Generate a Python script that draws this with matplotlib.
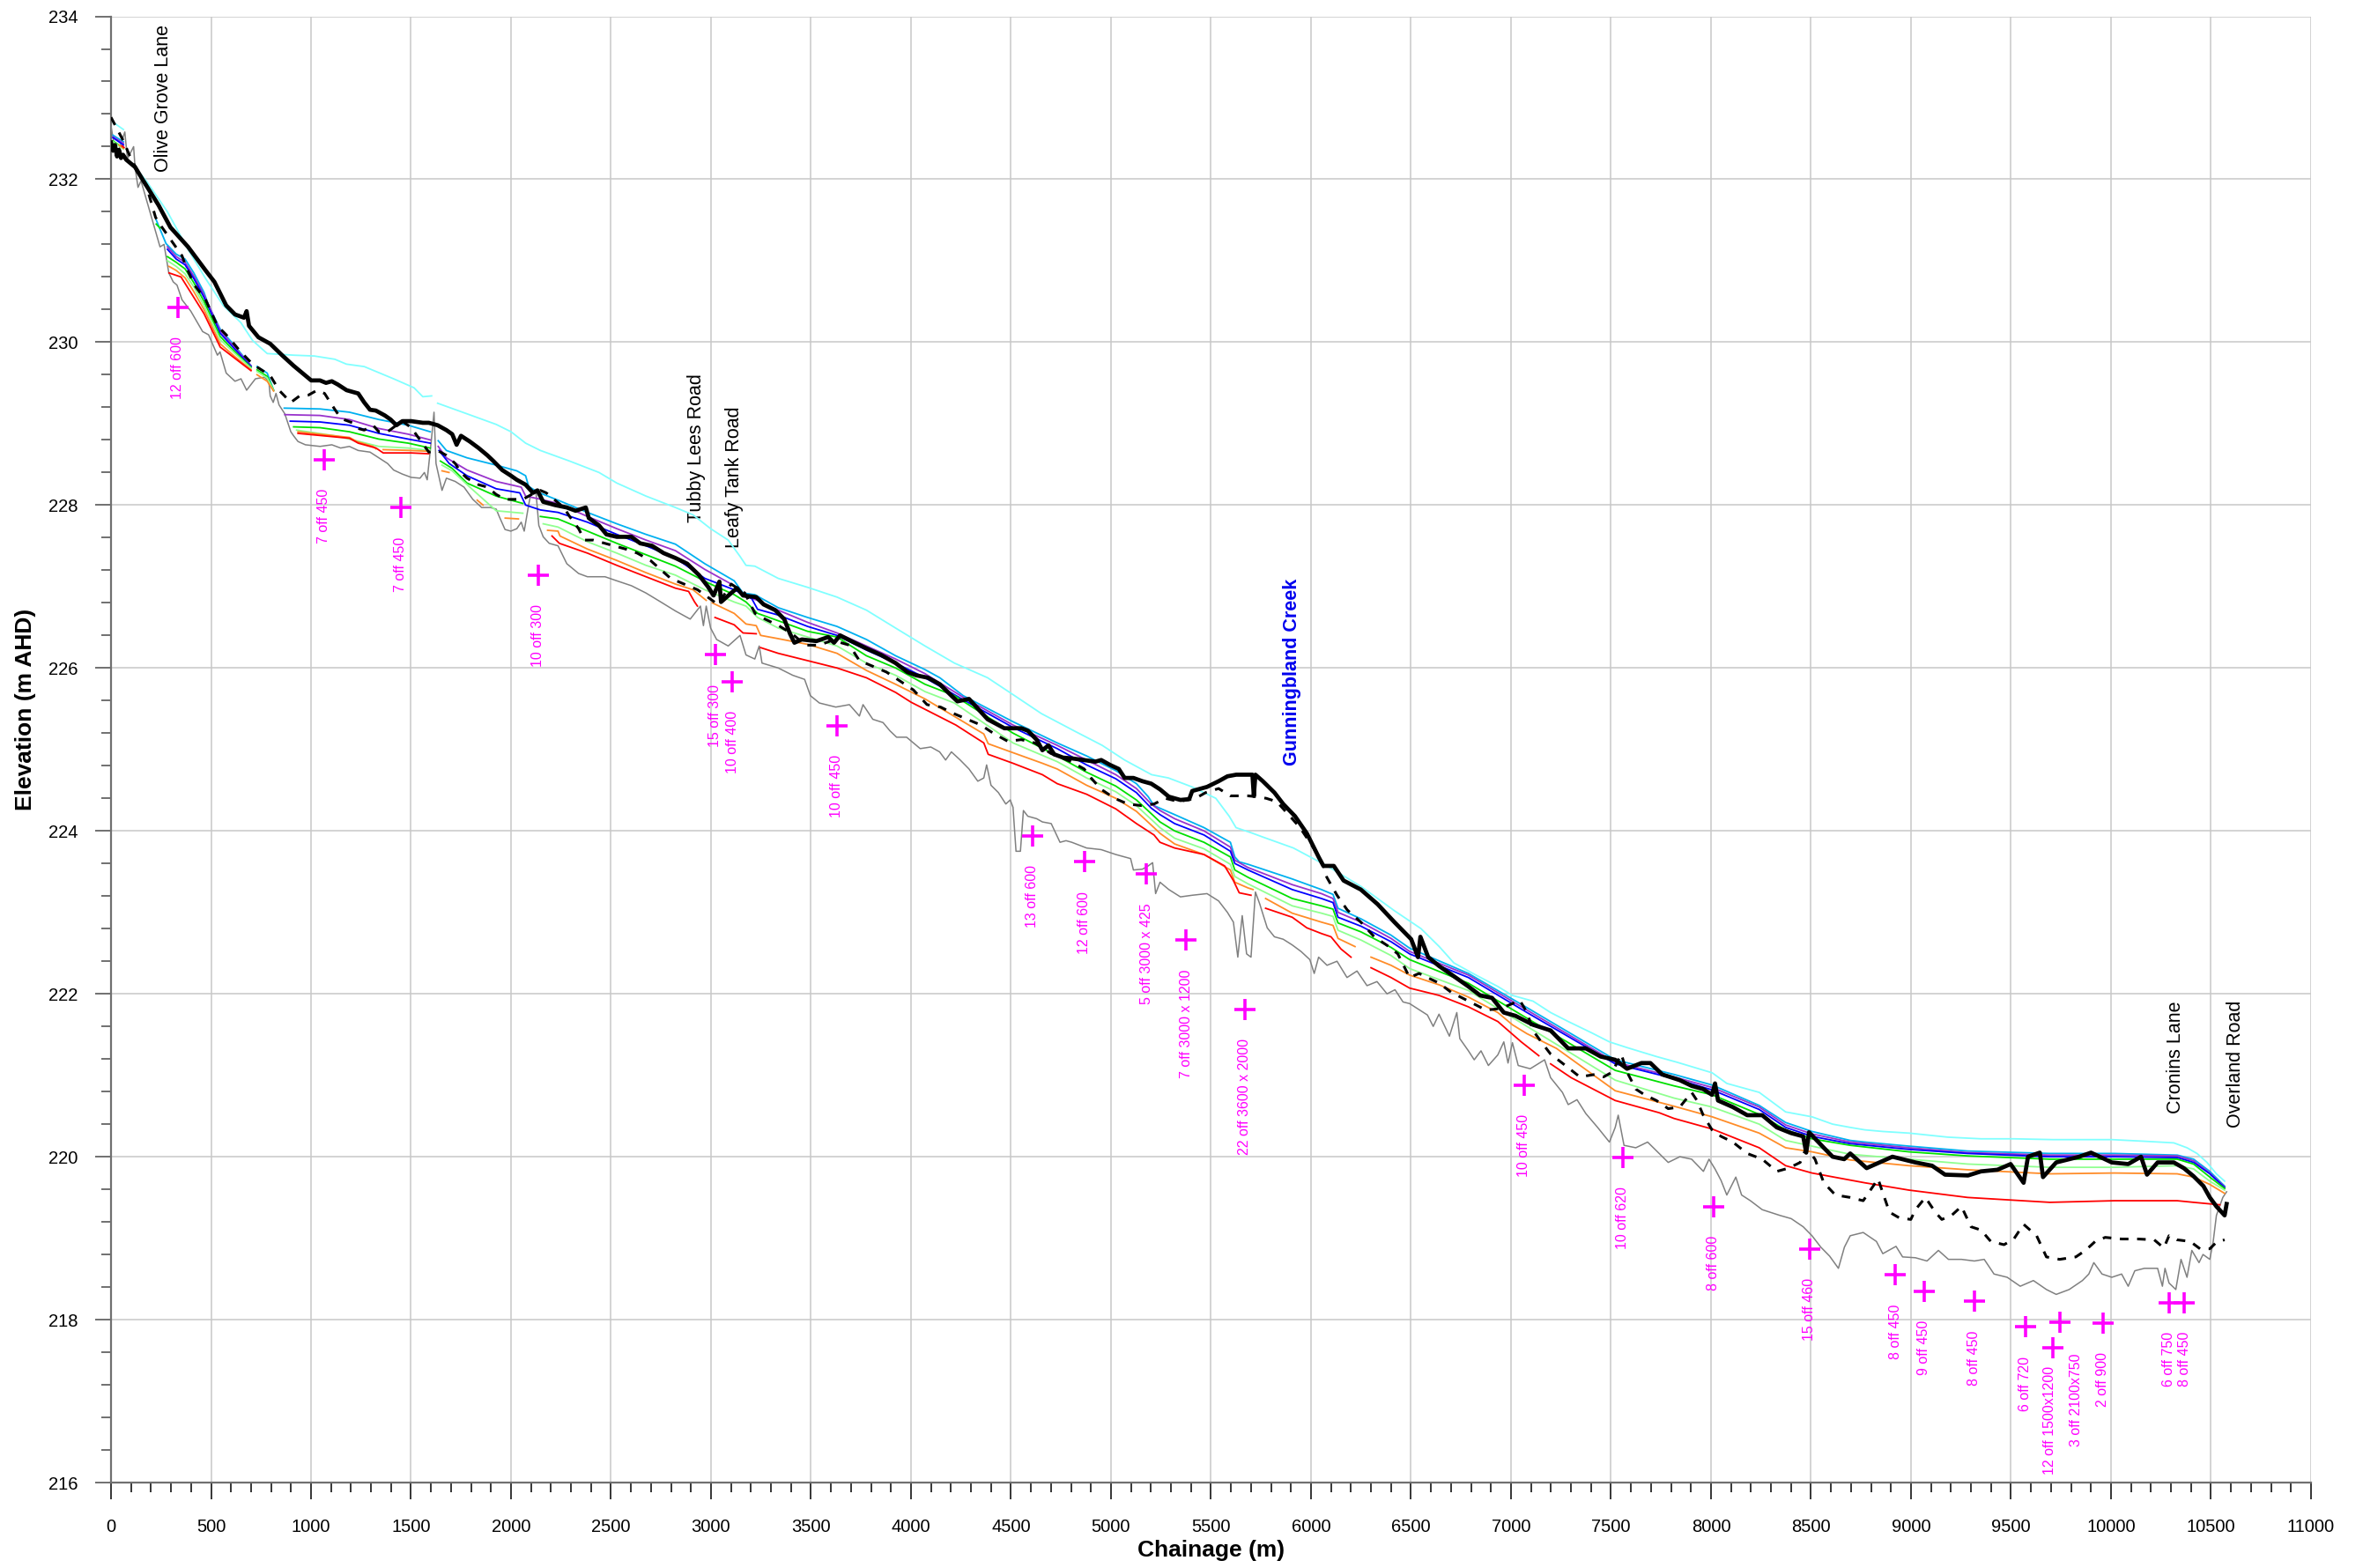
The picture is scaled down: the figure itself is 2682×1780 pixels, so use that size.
import numpy as np
import matplotlib.pyplot as plt
from matplotlib.ticker import MultipleLocator

plt.rcParams['font.family'] = ['Liberation Sans', 'DejaVu Sans']

GAP = (np.nan, np.nan)

# thick black line (road level)
road_level = [
    (0, 232.45), (10, 232.35), (20, 232.42), (30, 232.28), (40, 232.36), (50, 232.26), (60, 232.30), (76, 232.24),
    (120, 232.15), (157, 232.00), (238, 231.68), (297, 231.41), (385, 231.17), (473, 230.88), (517, 230.74),
    (576, 230.45), (620, 230.34), (665, 230.30), (678, 230.38), (690, 230.20), (737, 230.06), (796, 229.98),
    (855, 229.84), (913, 229.71), (972, 229.59), (1001, 229.53), (1045, 229.53), (1075, 229.50), (1104, 229.52),
    (1134, 229.48), (1178, 229.41), (1236, 229.37), (1266, 229.26), (1295, 229.17), (1324, 229.16), (1369, 229.10),
    (1398, 229.05), (1427, 228.98), (1457, 229.03), (1501, 229.03), (1559, 229.01), (1589, 229.01), (1633, 228.98),
    (1677, 228.92), (1706, 228.87), (1728, 228.74), (1750, 228.85), (1794, 228.78), (1838, 228.70), (1882, 228.61),
    (1912, 228.54), (1956, 228.43), (2000, 228.36), (2029, 228.31), (2073, 228.25), (2110, 228.15), (2132, 228.18),
    (2161, 228.04), (2220, 228.00), (2279, 227.97), (2323, 227.93), (2374, 227.97), (2389, 227.84), (2440, 227.75),
    (2477, 227.64), (2529, 227.61), (2602, 227.61), (2646, 227.53), (2705, 227.50), (2763, 227.41), (2822, 227.35),
    (2881, 227.28), (2940, 227.14), (2984, 227.00), (3013, 226.89), (3042, 227.06), (3050, 226.81), (3101, 226.92),
    (3130, 226.98), (3160, 226.89), (3226, 226.87), (3263, 226.78), (3321, 226.71), (3366, 226.60), (3395, 226.42),
    (3417, 226.31), (3454, 226.35), (3527, 226.33), (3586, 226.38), (3615, 226.31), (3645, 226.40), (3718, 226.31),
    (3777, 226.24), (3850, 226.16), (3923, 226.06), (3982, 225.95), (4026, 225.91), (4085, 225.88), (4144, 225.80),
    (4202, 225.66), (4232, 225.59), (4290, 225.62), (4383, 225.37), (4467, 225.26), (4510, 225.26), (4551, 225.26),
    (4584, 225.23), (4628, 225.12), (4657, 224.99), (4687, 225.05), (4716, 224.94), (4760, 224.90), (4804, 224.89),
    (4863, 224.87), (4922, 224.85), (4951, 224.87), (4995, 224.81), (5039, 224.76), (5068, 224.65), (5112, 224.65),
    (5157, 224.61), (5201, 224.58), (5245, 224.51), (5289, 224.42), (5347, 224.38), (5391, 224.39), (5406, 224.49),
    (5480, 224.54), (5538, 224.61), (5582, 224.67), (5626, 224.69), (5707, 224.69), (5714, 224.43), (5722, 224.69),
    (5759, 224.61), (5817, 224.47), (5861, 224.33), (5920, 224.18), (5979, 223.97), (6038, 223.68), (6062, 223.57),
    (6114, 223.57), (6163, 223.39), (6249, 223.28), (6333, 223.10), (6417, 222.88), (6501, 222.67), (6535, 222.45),
    (6547, 222.70), (6586, 222.45), (6641, 222.34), (6700, 222.24), (6787, 222.09), (6846, 221.98), (6905, 221.95),
    (6964, 221.77), (7022, 221.73), (7110, 221.62), (7198, 221.55), (7286, 221.33), (7374, 221.33), (7448, 221.23),
    (7521, 221.19), (7580, 221.08), (7652, 221.15), (7697, 221.15), (7756, 221.01), (7844, 220.94), (7903, 220.87),
    (7961, 220.83), (8005, 220.76), (8020, 220.90), (8035, 220.69), (8109, 220.61), (8181, 220.51), (8256, 220.51),
    (8329, 220.36), (8401, 220.29), (8461, 220.25), (8476, 220.05), (8490, 220.30), (8564, 220.11), (8608, 220.00),
    (8666, 219.97), (8696, 220.04), (8778, 219.86), (8907, 220.00), (9022, 219.93), (9105, 219.89), (9170, 219.78),
    (9285, 219.77), (9350, 219.82), (9432, 219.84), (9498, 219.91), (9563, 219.68), (9585, 220.00), (9644, 220.05),
    (9660, 219.75), (9726, 219.93), (9841, 220.00), (9900, 220.05), (10004, 219.93), (10086, 219.91), (10150, 220.00),
    (10180, 219.78), (10233, 219.93), (10314, 219.93), (10364, 219.86), (10413, 219.76), (10462, 219.64),
    (10494, 219.50), (10527, 219.39), (10568, 219.28), (10578, 219.42),
]

# dashed black line
dashed_level = [
    (0, 232.76), (32, 232.61), (62, 232.47), (100, 232.25), (179, 231.90), (223, 231.53), (252, 231.42), (355, 231.06),
    (370, 230.96), (414, 230.71), (473, 230.52), (532, 230.20), (576, 230.09), (649, 229.88), (708, 229.73),
    (796, 229.59), (840, 229.41), (899, 229.26), (943, 229.34), (987, 229.35), (1031, 229.41), (1068, 229.37),
    (1104, 229.23), (1134, 229.12), (1163, 229.05), (1207, 229.01), (1236, 228.94), (1266, 228.92), (1310, 228.98),
    (1339, 228.90), (1383, 228.90), (1427, 228.98), (1457, 229.03), (1501, 228.95), (1545, 228.80), (1589, 228.65),
    (1633, 228.67), (1677, 228.61), (1721, 228.51), (1750, 228.40), (1780, 228.33), (1838, 228.25), (1882, 228.22),
    (1926, 228.13), (1971, 228.07), (2015, 228.07), (2059, 228.07), (2103, 228.13), (2147, 228.18), (2176, 228.15),
    (2264, 227.97), (2293, 227.86), (2338, 227.71), (2367, 227.57), (2411, 227.57), (2440, 227.55), (2514, 227.50),
    (2573, 227.46), (2631, 227.41), (2697, 227.32), (2798, 227.10), (2866, 227.03), (2933, 226.96), (3034, 226.78),
    (3101, 227.03), (3169, 226.92), (3220, 226.67), (3270, 226.60), (3338, 226.52), (3405, 226.42), (3473, 226.28),
    (3540, 226.28), (3608, 226.34), (3692, 226.28), (3742, 226.09), (3809, 226.02), (3877, 225.95), (3945, 225.84),
    (4012, 225.73), (4080, 225.55), (4148, 225.52), (4214, 225.44), (4282, 225.37), (4349, 225.30), (4417, 225.19),
    (4484, 225.10), (4551, 225.12), (4619, 225.08), (4700, 224.95), (4800, 224.85), (4866, 224.76), (4900, 224.65),
    (4951, 224.51), (5018, 224.40), (5084, 224.33), (5153, 224.31), (5215, 224.33), (5271, 224.40), (5338, 224.36),
    (5423, 224.40), (5473, 224.47), (5538, 224.52), (5597, 224.43), (5685, 224.43), (5729, 224.42), (5776, 224.40),
    (5828, 224.36), (5895, 224.18), (5945, 224.04), (6013, 223.79), (6062, 223.57), (6079, 223.43), (6130, 223.21),
    (6181, 223.03), (6249, 222.88), (6316, 222.70), (6383, 222.59), (6434, 222.49), (6493, 222.20), (6540, 222.25),
    (6641, 222.13), (6700, 222.02), (6787, 221.91), (6875, 221.80), (6950, 221.82), (7007, 221.88), (7044, 221.92),
    (7080, 221.77), (7110, 221.55), (7154, 221.40), (7198, 221.26), (7272, 221.12), (7344, 220.98), (7419, 221.01),
    (7463, 220.98), (7507, 221.04), (7551, 221.26), (7580, 221.04), (7624, 220.83), (7668, 220.76), (7727, 220.69),
    (7786, 220.59), (7844, 220.61), (7903, 220.79), (7930, 220.69), (7961, 220.51), (8005, 220.33), (8050, 220.25),
    (8109, 220.18), (8181, 220.04), (8256, 219.97), (8329, 219.82), (8388, 219.86), (8446, 219.93), (8476, 220.11),
    (8520, 219.97), (8564, 219.68), (8622, 219.53), (8696, 219.50), (8761, 219.46), (8811, 219.64), (8835, 219.73),
    (8892, 219.32), (8941, 219.25), (8999, 219.23), (9022, 219.35), (9072, 219.50), (9121, 219.32), (9154, 219.23),
    (9203, 219.28), (9252, 219.39), (9300, 219.14), (9350, 219.10), (9399, 218.96), (9465, 218.92), (9514, 218.99),
    (9563, 219.17), (9628, 219.03), (9677, 218.77), (9743, 218.74), (9824, 218.77), (9872, 218.85), (9921, 218.96),
    (9971, 219.01), (10053, 218.99), (10135, 218.99), (10216, 218.98), (10264, 218.88), (10290, 219.03),
    (10330, 218.98), (10396, 218.96), (10445, 218.87), (10494, 218.87), (10527, 218.95), (10568, 218.98),
]

# thin grey line (bed)
bed_level = [
    (0, 232.65), (25, 232.29), (45, 232.40), (69, 232.58), (82, 232.25), (113, 232.40), (120, 232.15), (135, 231.90),
    (150, 231.98), (223, 231.36), (245, 231.17), (265, 231.20), (289, 230.85), (311, 230.74), (330, 230.70),
    (355, 230.52), (399, 230.38), (458, 230.13), (488, 230.09), (532, 229.84), (545, 229.88), (576, 229.62),
    (620, 229.52), (650, 229.55), (678, 229.41), (722, 229.55), (767, 229.57), (789, 229.52), (796, 229.34),
    (811, 229.26), (825, 229.37), (840, 229.23), (869, 229.12), (899, 228.90), (913, 228.85), (935, 228.78),
    (972, 228.74), (1045, 228.72), (1104, 228.74), (1148, 228.70), (1192, 228.72), (1236, 228.67), (1295, 228.65),
    (1339, 228.58), (1383, 228.51), (1413, 228.43), (1457, 228.38), (1501, 228.34), (1545, 228.33), (1567, 228.40),
    (1581, 228.31), (1603, 228.83), (1615, 229.14), (1625, 228.51), (1655, 228.18), (1677, 228.33), (1721, 228.29),
    (1765, 228.22), (1809, 228.07), (1853, 227.97), (1897, 227.97), (1926, 227.95), (1941, 227.86), (1970, 227.70),
    (1999, 227.68), (2029, 227.71), (2051, 227.79), (2066, 227.68), (2088, 228.00), (2100, 228.15), (2125, 228.15),
    (2139, 227.75), (2161, 227.61), (2191, 227.53), (2235, 227.50), (2279, 227.28), (2338, 227.16), (2382, 227.12),
    (2470, 227.12), (2529, 227.07), (2602, 227.01), (2675, 226.92), (2749, 226.81), (2822, 226.70), (2896, 226.60),
    (2947, 226.76), (2962, 226.52), (2976, 226.76), (2998, 226.49), (3028, 226.35), (3086, 226.27), (3145, 226.40),
    (3175, 226.16), (3219, 226.11), (3241, 226.27), (3255, 226.06), (3336, 226.00), (3409, 225.91), (3468, 225.86),
    (3497, 225.66), (3542, 225.57), (3624, 225.52), (3692, 225.55), (3742, 225.41), (3760, 225.55), (3809, 225.37),
    (3860, 225.33), (3894, 225.23), (3928, 225.15), (3978, 225.15), (4012, 225.08), (4046, 225.01), (4099, 225.03),
    (4143, 224.97), (4173, 224.87), (4202, 224.97), (4246, 224.87), (4290, 224.76), (4334, 224.61), (4364, 224.65),
    (4378, 224.81), (4400, 224.56), (4437, 224.47), (4474, 224.33), (4496, 224.38), (4510, 224.29), (4525, 223.75),
    (4547, 223.75), (4562, 224.25), (4584, 224.18), (4628, 224.15), (4657, 224.11), (4701, 224.09), (4745, 223.86),
    (4775, 223.88), (4804, 223.86), (4878, 223.79), (4951, 223.77), (5024, 223.71), (5098, 223.66), (5112, 223.52),
    (5157, 223.53), (5186, 223.57), (5208, 223.61), (5223, 223.23), (5245, 223.37), (5289, 223.28), (5347, 223.19),
    (5406, 223.21), (5480, 223.23), (5538, 223.14), (5582, 223.00), (5612, 222.88), (5634, 222.45), (5656, 222.96),
    (5678, 222.49), (5700, 222.45), (5722, 223.25), (5744, 223.10), (5781, 222.81), (5817, 222.70), (5861, 222.67),
    (5906, 222.60), (5950, 222.52), (5994, 222.42), (6016, 222.25), (6038, 222.45), (6080, 222.35), (6130, 222.40),
    (6180, 222.20), (6230, 222.28), (6280, 222.10), (6330, 222.15), (6380, 222.00), (6420, 222.05), (6460, 221.90),
    (6493, 221.88), (6582, 221.74), (6611, 221.60), (6640, 221.75), (6692, 221.48), (6729, 221.77), (6744, 221.45),
    (6787, 221.30), (6816, 221.19), (6850, 221.30), (6887, 221.12), (6934, 221.25), (6964, 221.41), (6985, 221.15),
    (7007, 221.40), (7036, 221.12), (7096, 221.08), (7168, 221.19), (7198, 220.97), (7257, 220.79), (7286, 220.64),
    (7330, 220.70), (7374, 220.53), (7433, 220.36), (7492, 220.18), (7521, 220.36), (7536, 220.51), (7565, 220.14),
    (7624, 220.11), (7683, 220.18), (7741, 220.04), (7786, 219.93), (7844, 220.00), (7903, 219.97), (7962, 219.82),
    (7990, 219.97), (8020, 219.85), (8050, 219.71), (8079, 219.53), (8124, 219.75), (8153, 219.53), (8197, 219.46),
    (8256, 219.35), (8344, 219.28), (8401, 219.24), (8461, 219.14), (8505, 219.03), (8549, 218.89), (8593, 218.78),
    (8637, 218.63), (8667, 218.89), (8696, 219.03), (8761, 219.07), (8827, 218.96), (8859, 218.81), (8925, 218.90),
    (8958, 218.77), (9022, 218.76), (9080, 218.72), (9137, 218.85), (9187, 218.74), (9252, 218.74), (9317, 218.72),
    (9366, 218.74), (9415, 218.56), (9481, 218.52), (9546, 218.41), (9612, 218.48), (9677, 218.37), (9726, 218.31),
    (9791, 218.37), (9857, 218.48), (9889, 218.56), (9914, 218.70), (9955, 218.56), (10004, 218.52), (10053, 218.56),
    (10086, 218.41), (10119, 218.60), (10167, 218.63), (10233, 218.63), (10257, 218.41), (10270, 218.63),
    (10290, 218.45), (10324, 218.37), (10350, 218.74), (10380, 218.52), (10404, 218.85), (10440, 218.70),
    (10460, 218.80), (10494, 218.74), (10511, 218.96), (10527, 219.28), (10559, 219.50), (10578, 219.57),
]

# flood levels, top to bottom
level_cyan = [
    (10, 232.70), (62, 232.61), GAP, (120, 232.15), (179, 231.97), (282, 231.60), (385, 231.14), (473, 230.78),
    (561, 230.45), (649, 230.24), (708, 230.02), (781, 229.86), (913, 229.84), (1016, 229.83), (1119, 229.79),
    (1177, 229.73), (1266, 229.70), (1413, 229.55), (1515, 229.44), (1559, 229.33), (1603, 229.34), GAP,
    (1633, 229.25), (1780, 229.12), (1926, 228.99), (2000, 228.90), (2073, 228.76), (2147, 228.67), (2293, 228.54),
    (2440, 228.40), (2529, 228.27), (2675, 228.11), (2822, 227.97), (2910, 227.88), (2998, 227.71), (3086, 227.57),
    (3145, 227.37), (3175, 227.26), (3219, 227.25), (3336, 227.10), (3483, 226.99), (3630, 226.87), (3777, 226.71),
    (3923, 226.49), (4070, 226.27), (4217, 226.06), (4383, 225.88), (4518, 225.66), (4652, 225.44), (4822, 225.22),
    (4956, 225.05), (5068, 224.87), (5203, 224.69), (5287, 224.65), (5405, 224.54), (5524, 224.40), (5591, 224.18),
    (5625, 224.04), (5709, 223.97), (5753, 223.93), (5912, 223.79), (6080, 223.57), (6249, 223.32), (6417, 223.02),
    (6550, 222.80), (6641, 222.58), (6714, 222.38), (6817, 222.24), (6934, 222.09), (7007, 221.98), (7110, 221.91),
    (7198, 221.77), (7286, 221.66), (7404, 221.52), (7492, 221.41), (7580, 221.34), (7727, 221.23), (7830, 221.16),
    (8006, 221.03), (8079, 220.90), (8241, 220.79), (8373, 220.55), (8505, 220.49), (8608, 220.40), (8696, 220.36),
    (8769, 220.33), (8859, 220.31), (8990, 220.29), (9185, 220.24), (9350, 220.22), (9513, 220.22), (9709, 220.21),
    (10004, 220.21), (10167, 220.19), (10314, 220.17), (10380, 220.11), (10430, 220.04), (10480, 219.93),
    (10527, 219.79), (10568, 219.70),
]

level_sky = [
    (10, 232.54), (62, 232.46), GAP, (226, 231.50), (275, 231.21), (326, 231.08), (370, 231.02), (414, 230.85),
    (465, 230.61), (488, 230.45), (546, 230.16), (620, 229.95), (700, 229.71), GAP, (730, 229.70), (781, 229.62),
    (813, 229.41), GAP, (866, 229.19), (1045, 229.18), (1192, 229.14), (1339, 229.05), (1486, 228.98), (1596, 228.90),
    GAP, (1636, 228.79), (1677, 228.67), (1780, 228.58), (1926, 228.49), (2029, 228.42), (2073, 228.36),
    (2088, 228.23), (2132, 228.16), (2235, 228.06), (2382, 227.91), (2529, 227.77), (2675, 227.64), (2822, 227.52),
    (2969, 227.28), (3116, 227.07), (3160, 226.92), (3219, 226.90), (3336, 226.74), (3483, 226.62), (3630, 226.51),
    (3777, 226.35), (3923, 226.15), (4070, 225.98), (4144, 225.88), (4261, 225.66), (4510, 225.34), (4731, 225.08),
    (4878, 224.92), (5024, 224.74), (5127, 224.58), (5186, 224.42), (5215, 224.31), (5318, 224.20), (5465, 224.04),
    (5597, 223.86), (5619, 223.68), (5641, 223.62), (5685, 223.59), (5759, 223.53), (5906, 223.41), (6052, 223.28),
    (6110, 223.22), (6135, 223.05), (6250, 222.92), (6400, 222.72), (6493, 222.56), (6787, 222.25), (7080, 221.83),
    (7521, 221.19), (7815, 221.01), (8006, 220.88), (8241, 220.63), (8373, 220.42), (8505, 220.31), (8696, 220.20),
    (8769, 220.18), (8990, 220.13), (9283, 220.07), (9694, 220.04), (10017, 220.04), (10331, 220.02),
    (10413, 219.97), (10494, 219.82), (10568, 219.64),
]

level_purple = [
    (10, 232.52), (62, 232.44), GAP, (282, 231.17), (326, 231.05), (370, 230.98), (414, 230.81), (465, 230.58),
    (546, 230.14), (620, 229.93), (700, 229.71), GAP, (869, 229.11), (1045, 229.10), (1192, 229.05), (1339, 228.94),
    (1486, 228.87), (1596, 228.80), GAP, (1636, 228.72), (1677, 228.58), (1780, 228.43), (1926, 228.29),
    (2051, 228.22), (2073, 228.11), (2132, 228.08), (2235, 228.02), (2382, 227.86), (2529, 227.71), (2675, 227.57),
    (2822, 227.44), (2969, 227.21), (3116, 227.01), (3160, 226.89), (3233, 226.83), (3336, 226.71), (3483, 226.56),
    (3630, 226.43), (3777, 226.27), (3923, 226.11), (4070, 225.93), (4261, 225.64), (4510, 225.30), (4731, 225.05),
    (4878, 224.87), (5024, 224.69), (5127, 224.52), (5201, 224.33), (5245, 224.25), (5318, 224.15), (5465, 224.00),
    (5597, 223.80), (5619, 223.64), (5685, 223.55), (5906, 223.34), (6052, 223.23), (6110, 223.17), (6135, 223.00),
    (6250, 222.88), (6400, 222.68), (6493, 222.52), (6787, 222.23), (7080, 221.80), (7521, 221.16), (7815, 220.98),
    (8006, 220.85), (8241, 220.61), (8373, 220.39), (8505, 220.28), (8696, 220.18), (8990, 220.11), (9283, 220.05),
    (9694, 220.02), (10017, 220.02), (10331, 220.01), (10413, 219.95), (10494, 219.80), (10568, 219.63),
]

level_blue = [
    (10, 232.51), (62, 232.42), GAP, (282, 231.14), (326, 231.02), (370, 230.95), (414, 230.78), (465, 230.55),
    (546, 230.11), (620, 229.91), (700, 229.70), GAP, (896, 229.03), (1045, 229.02), (1192, 228.98), (1339, 228.88),
    (1486, 228.81), (1596, 228.76), GAP, (1640, 228.67), (1691, 228.51), (1780, 228.36), (1926, 228.20),
    (2044, 228.15), (2073, 228.00), (2147, 227.94), (2235, 227.91), (2382, 227.79), (2529, 227.64), (2675, 227.50),
    (2822, 227.35), (2969, 227.10), (3116, 226.96), (3204, 226.85), (3233, 226.72), (3336, 226.65), (3483, 226.51),
    (3630, 226.40), (3777, 226.22), (3923, 226.06), (4070, 225.88), (4261, 225.61), (4510, 225.27), (4731, 225.01),
    (4878, 224.81), (5024, 224.64), (5127, 224.47), (5201, 224.28), (5245, 224.20), (5318, 224.09), (5465, 223.95),
    (5597, 223.75), (5619, 223.60), (5685, 223.52), (5906, 223.28), (6052, 223.17), (6110, 223.12), (6135, 222.94),
    (6250, 222.83), (6400, 222.64), (6493, 222.49), (6787, 222.20), (7080, 221.77), (7521, 221.14), (7815, 220.96),
    (8006, 220.82), (8241, 220.58), (8373, 220.36), (8505, 220.25), (8696, 220.16), (8990, 220.09), (9283, 220.04),
    (9694, 220.00), (10017, 220.00), (10331, 219.99), (10413, 219.93), (10494, 219.79), (10568, 219.62),
]

level_green = [
    (10, 232.47), (62, 232.38), GAP, (226, 231.45), (245, 231.40), GAP, (282, 231.05), (326, 230.98), (370, 230.90),
    (414, 230.73), (465, 230.50), (546, 230.07), (620, 229.88), (700, 229.69), GAP, (730, 229.66), (781, 229.58),
    (813, 229.41), GAP, (913, 228.96), (1045, 228.95), (1192, 228.90), (1339, 228.81), (1486, 228.76), (1596, 228.70),
    GAP, (1647, 228.54), (1706, 228.45), (1780, 228.27), (1926, 228.11), (2059, 228.02), GAP, (2147, 227.86),
    (2235, 227.83), (2382, 227.68), (2529, 227.53), (2675, 227.39), (2822, 227.25), (2910, 227.14), (2998, 227.03),
    (3116, 226.90), (3175, 226.81), (3233, 226.67), (3336, 226.58), (3483, 226.45), (3630, 226.38), (3777, 226.15),
    (3923, 226.00), (4070, 225.80), (4217, 225.66), (4510, 225.20), (4731, 224.92), (4878, 224.72), (5024, 224.55),
    (5127, 224.38), (5215, 224.18), (5245, 224.11), (5318, 224.00), (5465, 223.86), (5597, 223.68), (5619, 223.52),
    (5685, 223.43), (5906, 223.17), (6052, 223.08), (6110, 223.04), (6135, 222.87), (6250, 222.76), (6400, 222.57),
    (6493, 222.42), (6787, 222.13), (7080, 221.70), (7521, 221.06), (7815, 220.87), (8006, 220.76), (8241, 220.52),
    (8373, 220.33), (8505, 220.22), (8696, 220.14), (8990, 220.06), (9283, 220.01), (9694, 219.97), (10017, 219.97),
    (10331, 219.97), (10413, 219.91), (10494, 219.75), (10568, 219.61),
]

level_lightgreen = [
    (10, 232.46), (62, 232.37), GAP, (282, 231.00), (326, 230.93), (370, 230.84), (414, 230.68), (465, 230.45),
    (546, 230.03), (620, 229.86), (700, 229.68), GAP, (730, 229.64), (781, 229.56), (813, 229.41), GAP,
    (928, 228.92), (1119, 228.85), (1192, 228.81), (1339, 228.72), (1486, 228.70), (1596, 228.67), GAP,
    (1655, 228.49), (1706, 228.42), (1794, 228.22), (1926, 227.93), (2059, 227.90), GAP, (2161, 227.77),
    (2235, 227.73), (2382, 227.55), (2529, 227.41), (2675, 227.26), (2822, 227.14), (2969, 226.96), (3116, 226.81),
    (3175, 226.76), (3233, 226.62), (3336, 226.49), (3483, 226.38), (3630, 226.27), (3777, 226.06), (3923, 225.91),
    (4070, 225.71), (4217, 225.57), (4510, 225.08), (4731, 224.85), (4878, 224.65), (5024, 224.48), (5127, 224.31),
    (5215, 224.11), (5245, 224.04), (5318, 223.91), (5465, 223.78), (5597, 223.59), (5619, 223.44), (5685, 223.35),
    (5906, 223.08), (6052, 222.99), (6110, 222.95), (6135, 222.78), (6250, 222.66), (6400, 222.47), (6493, 222.31),
    (6787, 222.04), (7080, 221.60), (7521, 220.94), (7815, 220.72), (8006, 220.61), (8241, 220.40), (8373, 220.20),
    (8505, 220.13), (8696, 220.03), (8990, 219.97), (9283, 219.91), (9694, 219.87), (10017, 219.87),
    (10331, 219.89), (10413, 219.85), (10494, 219.70), (10568, 219.59),
]

level_orange = [
    (40, 232.42), (62, 232.38), GAP, (290, 230.93), (326, 230.88), (370, 230.79), (414, 230.62), (465, 230.40),
    (546, 229.98), (620, 229.82), (700, 229.66), GAP, (730, 229.60), (781, 229.52), (813, 229.40), GAP,
    (935, 228.90), (1192, 228.83), (1229, 228.78), (1310, 228.72), (1325, 228.69), GAP, (1361, 228.68),
    (1501, 228.67), (1589, 228.66), GAP, (1655, 228.42), (1690, 228.40), GAP, (1831, 228.06), (1860, 228.00), GAP,
    (1971, 227.84), (2037, 227.83), GAP, (2183, 227.69), (2235, 227.68), (2245, 227.62), (2382, 227.46),
    (2529, 227.32), (2675, 227.17), (2822, 227.03), (2910, 226.96), (2976, 226.83), GAP, (3006, 226.80),
    (3116, 226.67), (3175, 226.54), (3226, 226.52), (3248, 226.40), (3336, 226.36), (3483, 226.29), (3630, 226.18),
    (3777, 225.97), (3923, 225.80), (4070, 225.62), (4364, 225.19), (4386, 225.07), (4510, 224.96), (4657, 224.83),
    (4731, 224.76), (4878, 224.56), (5024, 224.40), (5127, 224.24), (5215, 224.04), (5245, 223.97), (5318, 223.84),
    (5465, 223.71), (5597, 223.52), (5619, 223.37), (5685, 223.30), (5710, 223.28), GAP, (5773, 223.17),
    (5906, 222.99), (6052, 222.88), (6110, 222.84), (6135, 222.68), (6220, 222.58), GAP, (6300, 222.45),
    (6400, 222.35), (6493, 222.23), (6641, 222.11), (6787, 221.96), (6934, 221.77), (7007, 221.62), (7080, 221.51),
    (7227, 221.33), (7521, 220.81), (7815, 220.62), (8006, 220.49), (8241, 220.29), (8373, 220.11), (8505, 220.06),
    (8696, 219.96), (8990, 219.89), (9283, 219.84), (9694, 219.79), (10017, 219.80), (10331, 219.79),
    (10413, 219.75), (10494, 219.66), (10568, 219.55),
]

level_red = [
    (55, 232.41), (65, 232.39), GAP, (290, 230.85), (326, 230.82), (350, 230.80), (414, 230.55), (465, 230.35),
    (546, 229.94), (620, 229.80), (700, 229.65), GAP, (935, 228.88), (1192, 228.82), (1236, 228.76), (1325, 228.70),
    (1361, 228.64), (1501, 228.64), (1589, 228.63), GAP, (2205, 227.62), (2242, 227.53), (2382, 227.41),
    (2529, 227.26), (2675, 227.12), (2822, 226.98), (2888, 226.94), (2918, 226.81), (2932, 226.76), GAP,
    (3020, 226.62), (3116, 226.53), (3160, 226.43), (3226, 226.42), GAP, (3248, 226.25), (3336, 226.18),
    (3483, 226.09), (3630, 226.00), (3777, 225.88), (3923, 225.70), (4000, 225.58), (4224, 225.30), (4364, 225.08),
    (4386, 224.94), (4510, 224.83), (4657, 224.69), (4731, 224.58), (4878, 224.45), (5024, 224.27), (5127, 224.09),
    (5215, 223.95), (5245, 223.86), (5318, 223.79), (5465, 223.71), (5568, 223.57), (5612, 223.39), (5641, 223.24),
    (5700, 223.21), GAP, (5773, 223.05), (5906, 222.94), (5979, 222.81), (6052, 222.74), (6100, 222.70),
    (6150, 222.55), (6200, 222.45), GAP, (6300, 222.32), (6400, 222.20), (6493, 222.07), (6641, 221.98),
    (6787, 221.84), (6934, 221.66), (7051, 221.41), (7139, 221.24), GAP, (7198, 221.14), (7301, 220.97),
    (7521, 220.69), (7741, 220.54), (7815, 220.47), (8006, 220.34), (8241, 220.11), (8373, 219.89), (8505, 219.80),
    (8769, 219.68), (8990, 219.59), (9283, 219.50), (9694, 219.44), (10017, 219.46), (10331, 219.46),
    (10413, 219.44), (10544, 219.41),
]

flood_levels = [level_cyan, level_sky, level_purple, level_blue, level_green,
                level_lightgreen, level_orange, level_red]
flood_colours = ['#80ffff', '#00b0f0', '#9933cc', '#0000ff', '#00e000',
                 '#90ff90', '#ff8c28', '#ff0000']

# culverts
culvert_ch = [333, 1065, 1449, 2135, 3022, 3107, 3628, 4607, 4866, 5178, 5375, 5669, 7066, 7558, 8013,
              8493, 8921, 9064, 9317, 9571, 9711, 9746, 9959, 10290, 10367]
culvert_el = [230.43, 228.56, 227.97, 227.14, 226.16, 225.83, 225.29, 223.94, 223.62, 223.47, 222.66, 221.81,
              220.88, 219.99, 219.39, 218.87, 218.55, 218.35, 218.23, 217.91, 217.65, 217.97, 217.96, 218.21, 218.21]
culvert_labels = ["12 off 600", "7 off 450", "7 off 450", "10 off 300", "15 off 300", "10 off 400",
                  "10 off 450", "13 off 600", "12 off 600", "5 off 3000 x 425", "7 off 3000 x 1200",
                  "22 off 3600 x 2000", "10 off 450", "10 off 620", "8 off 600", "15 off 460", "8 off 450",
                  "9 off 450", "8 off 450", "6 off 720", "12 off 1500x1200", "3 off 2100x750", "2 off 900",
                  "6 off 750", "8 off 450"]

# road crossings
road_names = ["Olive Grove Lane", "Tubby Lees Road", "Leafy Tank Road", "Cronins Lane", "Overland Road"]
road_ch = [260, 2928, 3115, 10326, 10624]
road_el = [232.09, 227.79, 227.47, 220.53, 220.36]

creek_name = "Gunningbland Creek"
creek_ch = 5907
creek_el = 224.80


def split(points):
    arr = np.array(points, dtype=float)
    return arr[:, 0], arr[:, 1]


fig = plt.figure(figsize=(26.82, 17.8), dpi=100)
ax = fig.add_axes([0.04698, 0.05449, 0.93102, 0.93511])

x, y = split(bed_level)
ax.plot(x, y, color='#808080', lw=1.1, zorder=3)

for pts, col in zip(flood_levels, flood_colours):
    x, y = split(pts)
    ax.plot(x, y, color=col, lw=1.3, zorder=4)

x, y = split(dashed_level)
ax.plot(x, y, color='black', lw=2.2, dashes=(3.2, 3.2), zorder=5)

x, y = split(road_level)
ax.plot(x, y, color='black', lw=3.4, zorder=6, solid_joinstyle='round')

# label nudges (points) where two culverts sit close together
label_nudge = {20: (-3, -15), 21: (13, -26)}

ax.plot(culvert_ch, culvert_el, ls='none', marker='+', ms=17, mew=2.6, color='#ff00ff', zorder=7)
for i, (c, e, lab) in enumerate(zip(culvert_ch, culvert_el, culvert_labels)):
    off = label_nudge.get(i, (0, -24))
    ax.annotate(lab, (c, e), xytext=off, textcoords='offset points', rotation=90,
                ha='center', va='top', fontsize=11.5, color='#ff00ff', zorder=7)

for name, c, e in zip(road_names, road_ch, road_el):
    ax.text(c, e, name, rotation=90, ha='center', va='bottom', fontsize=15.5, color='black')
ax.text(creek_ch, creek_el, creek_name, rotation=90, ha='center', va='bottom', fontsize=15.5,
        fontweight='bold', color='#0000ee')

ax.set_xlim(0, 11000)
ax.set_ylim(216, 234)
ax.xaxis.set_major_locator(MultipleLocator(500))
ax.xaxis.set_minor_locator(MultipleLocator(100))
ax.yaxis.set_major_locator(MultipleLocator(2))
ax.yaxis.set_minor_locator(MultipleLocator(0.4))
ax.grid(True, which='major', color='#c8c8c8', lw=1.1)
ax.set_axisbelow(True)

for side in ['top', 'right']:
    ax.spines[side].set_visible(False)
for side in ['left', 'bottom']:
    ax.spines[side].set_color('#707070')
    ax.spines[side].set_linewidth(1.6)

ax.tick_params(axis='x', which='major', direction='out', length=13.5, width=1.1, color='black',
               labelsize=14.5, pad=16)
ax.tick_params(axis='x', which='minor', direction='out', length=8, width=1.1, color='black')
ax.tick_params(axis='y', which='major', direction='out', length=13, width=1.4, color='#707070',
               labelsize=14.5, pad=14)
ax.tick_params(axis='y', which='minor', direction='out', length=8, width=1.4, color='#707070')

fig.text(1375 / 2682, 1 - 1760 / 1780, "Chainage (m)", ha='center', va='center', fontsize=19, fontweight='bold')
fig.text(29 / 2682, 1 - 805 / 1780, "Elevation (m AHD)", ha='center', va='center', rotation=90,
         fontsize=19, fontweight='bold')

fig.savefig('out.png', dpi=100)
